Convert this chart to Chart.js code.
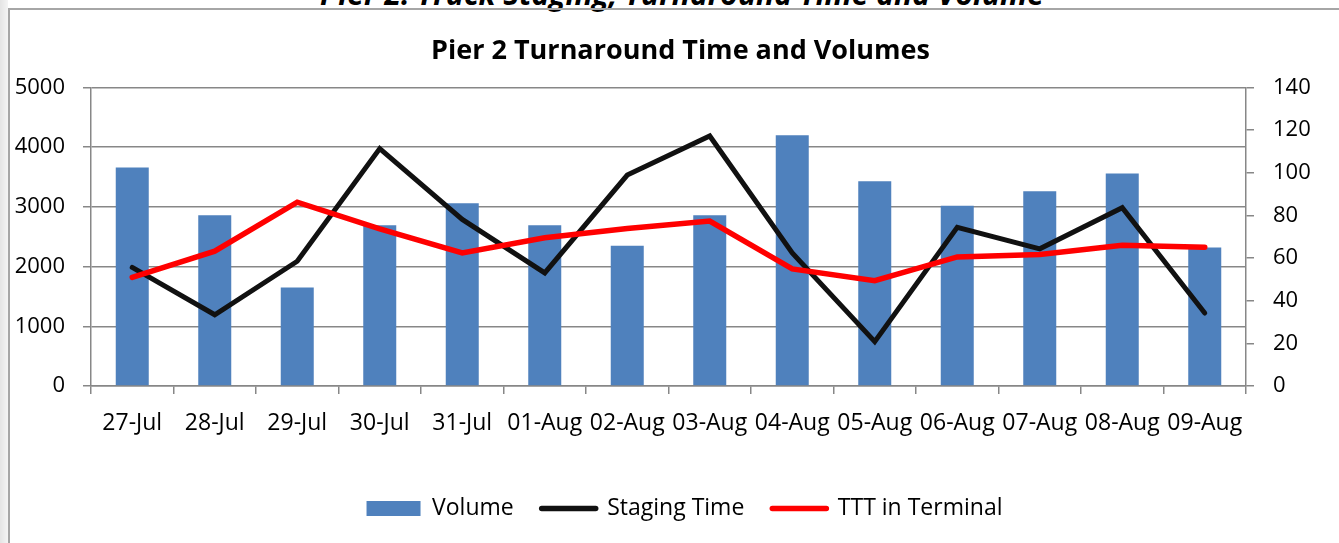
<!DOCTYPE html>
<html>
<head>
<meta charset="utf-8">
<script src="https://cdn.jsdelivr.net/npm/chart.js@4.4.1/dist/chart.umd.min.js"></script>
<style>
  html, body { margin: 0; padding: 0; background: #fff; }
  body { width: 1339px; height: 543px; position: relative; overflow: hidden; }
  #strip { position: absolute; left: 0; top: 0; width: 8px; height: 543px;
           background: linear-gradient(to right, #e4e4e4, #f4f4f4); }
  #frame { position: absolute; left: 8px; top: 8px; width: 1331px; height: 535px;
           border-left: 2px solid #a6a6a6; border-top: 2px solid #a6a6a6; box-sizing: border-box; }
  #supertitle { position: absolute; left: 0; width: 1364px; top: -27px; text-align: center;
                font: italic bold 30px 'Open Sans', sans-serif; color: #000; white-space: nowrap; }
  #wrap { position: absolute; left: 0; top: 0; width: 1339px; height: 543px; }
</style>
</head>
<body>
<div id="strip"></div>
<div id="supertitle">Pier 2: Truck Staging, Turnaround Time and Volume</div>
<div id="frame"></div>
<div id="wrap"><canvas id="c" width="1339" height="543"></canvas></div>
<script>
const categories = ['27-Jul','28-Jul','29-Jul','30-Jul','31-Jul','01-Aug','02-Aug','03-Aug','04-Aug','05-Aug','06-Aug','07-Aug','08-Aug','09-Aug'];
const volume = [3660, 2860, 1650, 2690, 3060, 2690, 2350, 2860, 4200, 3430, 3020, 3260, 3560, 2320];
const stagingTime = [55.6, 33.4, 58.5, 111.3, 78.1, 53.0, 98.9, 117.2, 62.4, 20.8, 74.4, 64.3, 83.6, 34.2];
const tttInTerminal = [50.9, 63.2, 86.2, 73.7, 62.4, 69.5, 73.8, 77.3, 54.9, 49.4, 60.5, 61.7, 66.0, 65.1];
const chartTitle = 'Pier 2 Turnaround Time and Volumes';

Chart.defaults.font.family = "'Open Sans', sans-serif";
Chart.defaults.font.size = 22;
Chart.defaults.color = '#000';

const GRID = '#878787';

// Shift title and legend horizontally (reference centres them slightly right of canvas centre)
const shiftBoxes = {
  id: 'shiftBoxes',
  afterLayout(chart) {
    const t = chart.titleBlock;
    if (t) { t.left += 11; t.right += 11; }
    const l = chart.legend;
    if (l) { l.left += 15; l.right += 15; }
  }
};

new Chart(document.getElementById('c'), {
  type: 'bar',
  plugins: [shiftBoxes],
  data: {
    labels: categories,
    datasets: [
      { label: 'Volume', data: volume, backgroundColor: '#4F81BD', borderWidth: 0,
        yAxisID: 'y', order: 3, barPercentage: 0.4, categoryPercentage: 1.0 },
      { type: 'line', label: 'Staging Time', data: stagingTime, borderColor: '#111111',
        backgroundColor: '#111111', borderWidth: 5, pointRadius: 0, tension: 0,
        borderCapStyle: 'round', yAxisID: 'y1', order: 2 },
      { type: 'line', label: 'TTT in Terminal', data: tttInTerminal, borderColor: '#FF0000',
        backgroundColor: '#FF0000', borderWidth: 5.5, pointRadius: 0, tension: 0,
        borderCapStyle: 'round', yAxisID: 'y1', order: 1 }
    ]
  },
  options: {
    responsive: false,
    animation: false,
    devicePixelRatio: 1,
    layout: { padding: { left: 0, right: 0, top: 0, bottom: 13 } },
    plugins: {
      title: { display: true, text: chartTitle, font: { size: 27, weight: 'bold' },
               padding: { top: 35, bottom: 20 } },
      tooltip: { enabled: false },
      legend: {
        position: 'bottom',
        labels: {
          usePointStyle: true, pointStyleWidth: 54, boxHeight: 15, padding: 28,
          font: { size: 23 },
          sort: (a, b) => a.datasetIndex - b.datasetIndex,
          generateLabels(chart) {
            const items = Chart.defaults.plugins.legend.labels.generateLabels(chart);
            items.forEach(it => {
              const ds = chart.data.datasets[it.datasetIndex];
              if (ds.type === 'line') {
                it.pointStyle = 'line'; it.strokeStyle = ds.borderColor; it.lineWidth = 5.5; it.lineCap = 'round';
              } else {
                it.pointStyle = 'rect'; it.fillStyle = ds.backgroundColor; it.strokeStyle = ds.backgroundColor; it.lineWidth = 0;
              }
            });
            return items;
          }
        }
      }
    },
    scales: {
      x: {
        offset: true,
        grid: { offset: true, drawOnChartArea: false, drawTicks: true, tickLength: 8, color: GRID, lineWidth: 1.5 },
        border: { color: GRID, width: 1.5 },
        ticks: { autoSkip: false, maxRotation: 0, minRotation: 0, padding: 16, font: { size: 23 } },
        afterFit(s) { s.height = 83; }
      },
      y: {
        position: 'left', min: 0, max: 5000,
        ticks: { stepSize: 1000, padding: 18, font: { size: 22 }, callback: v => String(v) },
        grid: { color: GRID, lineWidth: 1.5, tickLength: 8 },
        border: { color: GRID, width: 1.5 },
        afterFit(s) { s.width = 91; }
      },
      y1: {
        position: 'right', min: 0, max: 140,
        ticks: { stepSize: 20, padding: 19, font: { size: 22 }, callback: v => String(v) },
        grid: { drawOnChartArea: false, color: GRID, lineWidth: 1.5, tickLength: 8 },
        border: { color: GRID, width: 1.5 },
        afterFit(s) { s.width = 93; }
      }
    }
  }
});
</script>
</body>
</html>
